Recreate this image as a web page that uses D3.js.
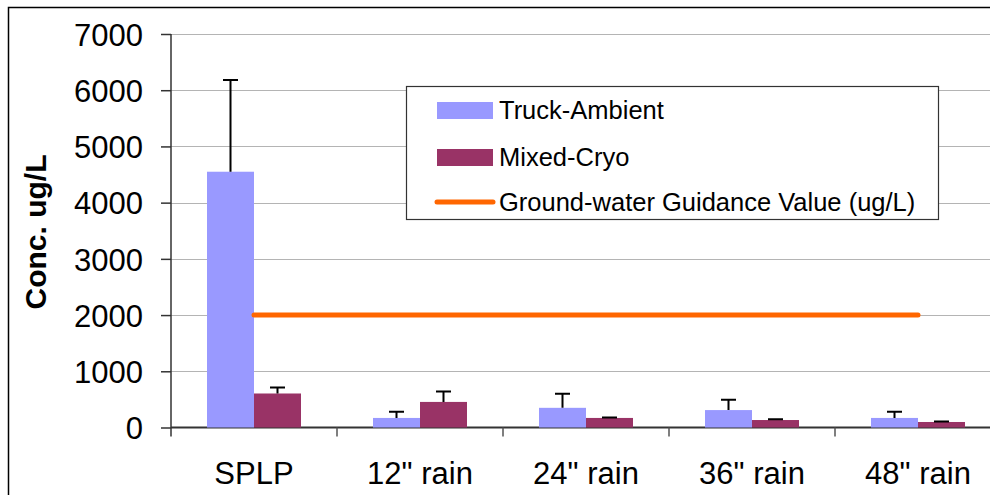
<!DOCTYPE html>
<html>
<head>
<meta charset="utf-8">
<script src="https://cdn.jsdelivr.net/npm/d3@7"></script>
<style>
    body { margin: 0; background: #fff; }
    text { font-family: 'Liberation Sans', Arial, sans-serif; fill: #000; }
</style>
</head>
<body>
<script>
// data
const categories = ['SPLP', '12" rain', '24" rain', '36" rain', '48" rain'];
const seriesNames = ['Truck-Ambient', 'Mixed-Cryo'];
const truckAmbient = [4550, 170, 350, 310, 170];
const truckErr = [1630, 110, 250, 185, 110];
const mixedCryo = [605, 455, 170, 133, 98];
const mixedErr = [105, 185, 8, 12, 7];
const guidanceName = 'Ground-water Guidance Value (ug/L)';
const guidance = [2000, 2000, 2000, 2000, 2000];
const yTicks = [0, 1000, 2000, 3000, 4000, 5000, 6000, 7000];

const colors = ['#9999ff', '#993366'];

let width = 990,
    height = 495;

let svg = d3.select('body')
    .append('svg')
    .attr('width', width)
    .attr('height', height);

svg.append('rect')
    .attr('x', 0)
    .attr('y', 0)
    .attr('width', width)
    .attr('height', height)
    .attr('fill', '#fff');

// outer chart frame (runs off the picture on right and bottom)
svg.append('rect')
    .attr('x', 8.5)
    .attr('y', 7.5)
    .attr('width', 1100)
    .attr('height', 600)
    .attr('fill', 'none')
    .attr('stroke', '#000')
    .attr('stroke-width', 1.5);

let plotL = 171, plotR = 1001, plotT = 34, plotB = 427.5;

let x0 = d3.scaleBand()
    .domain(categories)
    .range([plotL, plotR])
    .paddingInner(0)
    .paddingOuter(0);

let x1 = d3.scaleBand()
    .domain(seriesNames)
    .range([0, x0.bandwidth()])
    .paddingInner(0)
    .paddingOuter(0.766);

let y = d3.scaleLinear()
    .domain([0, 7000])
    .range([plotB, plotT]);

// grid lines
svg.append('g')
    .selectAll('line')
    .data(yTicks.filter(d => d > 0))
    .enter()
    .append('line')
    .attr('x1', plotL)
    .attr('x2', plotR)
    .attr('y1', d => Math.round(y(d)) + 0.5)
    .attr('y2', d => Math.round(y(d)) + 0.5)
    .attr('stroke', '#b4b4b4')
    .attr('stroke-width', 1.2);

// Y axis
let y_axis = d3.axisLeft(y)
    .tickValues(yTicks)
    .tickSize(10)
    .tickPadding(18)
    .tickFormat(d3.format('d'));

let gy = svg.append('g')
    .attr('transform', 'translate(' + plotL + ',0)')
    .call(y_axis);
gy.select('.domain').remove();
gy.selectAll('.tick line').attr('stroke', '#333').attr('stroke-width', 1.5);
gy.selectAll('.tick text')
    .attr('font-size', 31)
    .attr('font-family', "'Liberation Sans', Arial, sans-serif")
    .attr('fill', '#000')
    .attr('dy', '0.36em');

svg.append('line')
    .attr('x1', plotL)
    .attr('x2', plotL)
    .attr('y1', plotT)
    .attr('y2', plotB + 9)
    .attr('stroke', '#333')
    .attr('stroke-width', 1.5);

// X axis with ticks at the category borders
let gx = svg.append('g')
    .attr('transform', 'translate(0,' + plotB + ')');

gx.append('line')
    .attr('x1', plotL)
    .attr('x2', plotR)
    .attr('y1', 0)
    .attr('y2', 0)
    .attr('stroke', '#333')
    .attr('stroke-width', 2);

gx.selectAll('.border')
    .data(categories)
    .enter()
    .append('line')
    .attr('class', 'border')
    .attr('x1', d => x0(d) + x0.bandwidth())
    .attr('x2', d => x0(d) + x0.bandwidth())
    .attr('y1', 0)
    .attr('y2', 9)
    .attr('stroke', '#555')
    .attr('stroke-width', 1.5);

gx.selectAll('.lbl')
    .data(categories)
    .enter()
    .append('text')
    .attr('class', 'lbl')
    .attr('x', d => x0(d) + x0.bandwidth() / 2)
    .attr('y', 56)
    .attr('text-anchor', 'middle')
    .attr('font-size', 31)
    .text(d => d);

// bars
let series = [
    { name: seriesNames[0], values: truckAmbient, err: truckErr, color: colors[0] },
    { name: seriesNames[1], values: mixedCryo, err: mixedErr, color: colors[1] }
];

series.forEach(function (s) {
    let g = svg.append('g');
    g.selectAll('rect')
        .data(categories)
        .enter()
        .append('rect')
        .attr('x', d => x0(d) + x1(s.name))
        .attr('width', x1.bandwidth())
        .attr('y', (d, i) => y(s.values[i]))
        .attr('height', (d, i) => plotB - y(s.values[i]))
        .attr('fill', s.color);

    // error bars, plus side only
    g.selectAll('.eb')
        .data(categories)
        .enter()
        .append('path')
        .attr('class', 'eb')
        .attr('d', function (d, i) {
            let cx = x0(d) + x1(s.name) + x1.bandwidth() / 2;
            let y0 = y(s.values[i]);
            let y1 = y(s.values[i] + s.err[i]);
            return 'M' + cx + ',' + y0 + 'V' + y1 + 'M' + (cx - 7.5) + ',' + y1 + 'H' + (cx + 7.5);
        })
        .attr('stroke', '#000')
        .attr('stroke-width', 2)
        .attr('fill', 'none');
});

// guidance line
let lineFunc = d3.line()
    .x(d => x0(d) + x0.bandwidth() / 2)
    .y((d, i) => y(guidance[i]));

svg.append('path')
    .attr('d', lineFunc(categories))
    .attr('stroke', '#ff6600')
    .attr('stroke-width', 5)
    .attr('stroke-linecap', 'round')
    .attr('fill', 'none');

// axis title
svg.append('text')
    .attr('transform', 'translate(46,232) rotate(-90)')
    .attr('text-anchor', 'middle')
    .attr('font-size', 30)
    .attr('font-weight', 'bold')
    .text('Conc. ug/L');

// legend
let legend = svg.append('g');
legend.append('rect')
    .attr('x', 406.5)
    .attr('y', 86.5)
    .attr('width', 532)
    .attr('height', 133)
    .attr('fill', '#fff')
    .attr('stroke', '#333')
    .attr('stroke-width', 1.2);

let legendY = [110, 157, 202];
series.forEach(function (s, i) {
    legend.append('rect')
        .attr('x', 437)
        .attr('y', legendY[i] - 8)
        .attr('width', 56)
        .attr('height', 17)
        .attr('fill', s.color);
    legend.append('text')
        .attr('x', 499)
        .attr('y', legendY[i])
        .attr('dy', '0.35em')
        .attr('font-size', 25.5)
        .text(s.name);
});
legend.append('line')
    .attr('x1', 437)
    .attr('x2', 493)
    .attr('y1', legendY[2])
    .attr('y2', legendY[2])
    .attr('stroke', '#ff6600')
    .attr('stroke-width', 5)
    .attr('stroke-linecap', 'round');
legend.append('text')
    .attr('x', 499)
    .attr('y', legendY[2])
    .attr('dy', '0.35em')
    .attr('font-size', 25.5)
    .text(guidanceName);
</script>
</body>
</html>
